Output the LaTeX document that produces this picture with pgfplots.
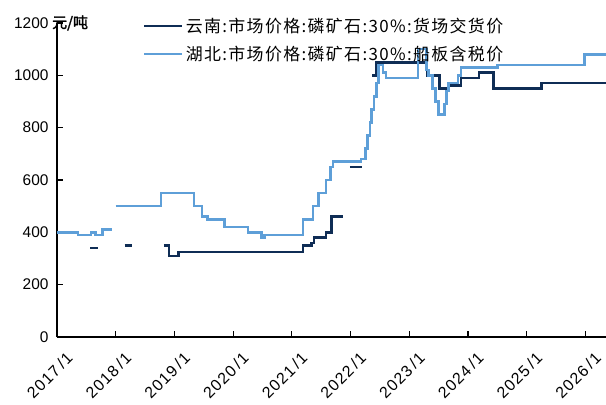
\documentclass[border=0pt]{standalone}
\usepackage{pgfplots}
\pgfplotsset{compat=1.18}
\usepackage{fontspec}
\setmainfont{Liberation Sans}
\newfontfamily\tickfont[LetterSpace=8]{Liberation Sans}
\newfontfamily\cjk[LetterSpace=8]{Noto Sans CJK SC}
\newfontfamily\cjkb[FakeBold=2]{Noto Sans CJK SC}
\definecolor{dk}{HTML}{0F2D55}
\definecolor{lt}{HTML}{5E9FD8}
\begin{document}
\begin{tikzpicture}
\begin{axis}[
  scale only axis, width=549bp, height=314bp,
  xmin=2017, xmax=2026.35, ymin=0, ymax=1200,
  axis x line=bottom, axis y line=left,
  axis line style={-, line width=1.4bp, black},
  xtick={2017,...,2026},
  xticklabels={2017\,/1,2018\,/1,2019\,/1,2020\,/1,2021\,/1,2022\,/1,2023\,/1,2024\,/1,2025\,/1,2026\,/1},
  x tick label style={rotate=45, anchor=north east, font=\tickfont\fontsize{16}{18}\selectfont, inner sep=1bp, xshift=-3bp, yshift=-15bp},
  tick style={line width=1.1bp, black},
  tick align=inside, major tick length=6bp,
  ytick={0,200,...,1200},
  y tick label style={font=\fontsize{15.5}{17}\selectfont, /pgf/number format/1000 sep={}, xshift=-5bp},
  /pgf/number format/assume math mode=true,
  legend style={draw=none, fill=none, at={([xshift=86bp,yshift=7bp]current axis.north west)}, anchor=north west,
    font=\cjk\fontsize{17}{19}\selectfont, row sep=8bp, inner sep=0bp},
  legend cell align=left,
  legend image code/.code={\draw[#1] (0bp,0bp) -- (38bp,0bp);},
  every axis plot/.append style={line width=2.6bp, const plot},
]
% Yunnan
\addplot[dk] coordinates {(2022.37,1000)(2022.43,1050)(2023.30,1000)(2023.51,950)(2023.66,960)(2023.88,990)(2024.19,1010)(2024.43,950)(2025.25,970)(2026.35,970)};
\addlegendentry{云南:市场价格:磷矿石:30\%:货场交货价}
% Hubei
\addplot[lt] coordinates {(2018.0,500)(2018.77,550)(2019.33,500)(2019.47,460)(2019.56,450)(2019.85,420)(2020.25,400)(2020.48,380)(2020.53,390)(2021.19,450)(2021.36,500)(2021.45,550)(2021.58,600)(2021.66,650)(2021.70,670)(2022.18,680)(2022.25,720)(2022.29,770)(2022.33,820)(2022.36,870)(2022.40,920)(2022.44,970)(2022.48,1040)(2022.55,1010)(2022.60,990)(2023.15,1100)(2023.29,1020)(2023.33,1000)(2023.40,950)(2023.45,900)(2023.50,850)(2023.60,890)(2023.63,940)(2023.67,970)(2023.83,1000)(2023.88,1030)(2024.5,1040)(2025.98,1080)(2026.35,1080)};
\addlegendentry{湖北:市场价格:磷矿石:30\%:船板含税价}
\addplot[lt, forget plot] coordinates {(2017.0,400)(2017.36,390)(2017.58,400)(2017.66,390)(2017.77,410)(2017.94,410)};
\addplot[dk, forget plot] coordinates {(2017.57,340)(2017.70,340)};
\addplot[dk, forget plot] coordinates {(2018.15,350)(2018.27,350)};
\addplot[dk, forget plot] coordinates {(2018.82,350)(2018.91,310)(2019.07,325)(2021.19,350)(2021.33,360)(2021.38,380)(2021.58,400)(2021.67,460)(2021.87,460)};
\addplot[dk, forget plot] coordinates {(2021.99,650)(2022.19,650)};
\end{axis}
\node[anchor=west, font=\cjkb\fontsize{15}{17}\selectfont, inner sep=0bp] at ([xshift=-5bp]current axis.north west) {元/吨};
\pgfresetboundingbox
\path[use as bounding box] ([xshift=-57bp,yshift=-68bp]current axis.south west) rectangle ([yshift=23bp]current axis.north east);
\end{tikzpicture}
\end{document}
